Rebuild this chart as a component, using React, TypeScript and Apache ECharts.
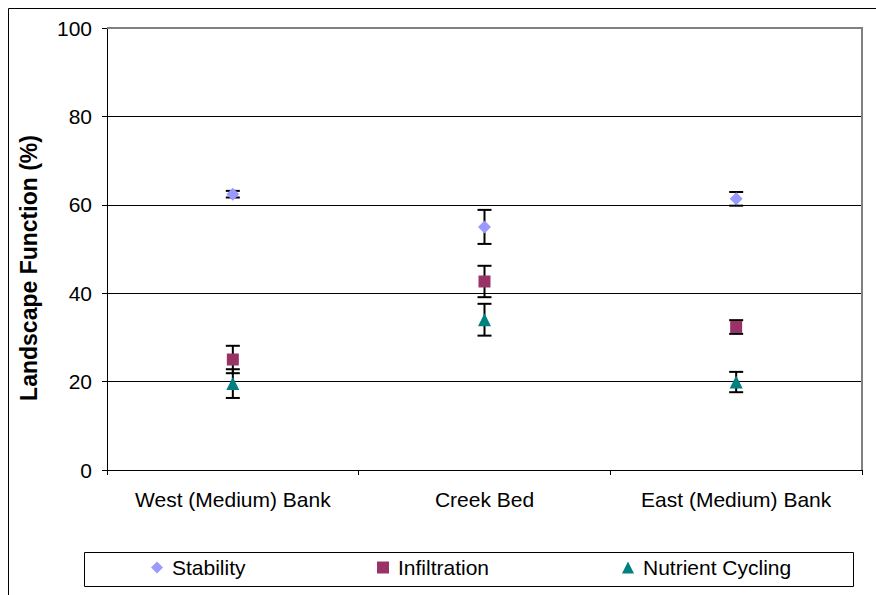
import React, { useEffect, useRef } from "react";
import * as echarts from "echarts";

const categories = ["West (Medium) Bank", "Creek Bed", "East (Medium) Bank"];
const stability = [62.4, 55.0, 61.35];
const stabilityErr = [0.75, 3.85, 1.55];
const infiltration = [25.0, 42.65, 32.35];
const infiltrationErr = [3.1, 3.55, 1.55];
const nutrient = [19.55, 34.0, 19.9];
const nutrientErr = [3.25, 3.6, 2.3];
const yTicks = [0, 20, 40, 60, 80, 100];
const yTitle = "Landscape Function (%)";

const FONT = "Liberation Sans, Arial, sans-serif";

function errData(vals: number[], errs: number[]) {
  return vals.map((v, i) => [i, v - errs[i], v + errs[i]]);
}

function renderErr(params: any, api: any) {
  const x = api.value(0);
  const lo = api.coord([x, api.value(1)]);
  const hi = api.coord([x, api.value(2)]);
  const hw = 7;
  const style = { stroke: "#000", lineWidth: 2 };
  return {
    type: "group",
    children: [
      { type: "line", shape: { x1: hi[0], y1: hi[1], x2: lo[0], y2: lo[1] }, style },
      { type: "line", shape: { x1: hi[0] - hw, y1: hi[1], x2: hi[0] + hw, y2: hi[1] }, style },
      { type: "line", shape: { x1: lo[0] - hw, y1: lo[1], x2: lo[0] + hw, y2: lo[1] }, style },
    ],
  };
}

export default function App() {
  const ref = useRef<HTMLDivElement>(null);
  useEffect(() => {
    document.body.style.margin = "0";
    const chart = echarts.init(ref.current!, null, { renderer: "svg" });
    const legendText = { color: "#000", fontSize: 21, fontFamily: FONT, padding: [0, 0, 0, 4] };
    chart.setOption({
      animation: false,
      backgroundColor: "#fff",
      grid: { left: 107, right: 14, top: 28, bottom: 125 },
      xAxis: {
        type: "category",
        data: categories,
        boundaryGap: true,
        axisLine: { lineStyle: { color: "#000", width: 1 } },
        axisTick: { show: true, length: 5, lineStyle: { color: "#000" } },
        axisLabel: { color: "#000", fontSize: 21, fontFamily: FONT, margin: 19, interval: 0, hideOverlap: false },
        splitLine: { show: false },
      },
      yAxis: {
        type: "value",
        min: 0,
        max: 100,
        interval: 20,
        axisLine: { show: true, lineStyle: { color: "#000", width: 1 } },
        axisTick: { show: true, length: 5, lineStyle: { color: "#000" } },
        axisLabel: {
          color: "#000",
          fontSize: 21,
          fontFamily: FONT,
          margin: 15,
          formatter: (v: number) => (yTicks.includes(v) ? String(v) : ""),
        },
        splitLine: { show: true, lineStyle: { color: "#000", width: 1 } },
      },
      legend: [
        { data: ["Stability"], left: 151, top: 557, padding: 0, itemWidth: 12, itemHeight: 12, textStyle: legendText },
        { data: ["Infiltration"], left: 377, top: 557, padding: 0, itemWidth: 12, itemHeight: 12, textStyle: legendText },
        { data: ["Nutrient Cycling"], left: 622, top: 557, padding: 0, itemWidth: 12, itemHeight: 12, textStyle: legendText },
      ],
      graphic: [
        {
          type: "rect",
          z: 100,
          shape: { x: 8.5, y: 8.5, width: 1000, height: 1000 },
          style: { fill: "none", stroke: "#000", lineWidth: 1 },
        },
        {
          type: "rect",
          z: 100,
          shape: { x: 84.5, y: 552.5, width: 769, height: 34 },
          style: { fill: "none", stroke: "#000", lineWidth: 1 },
        },
        {
          type: "polyline",
          z: 100,
          shape: { points: [[107, 28], [862, 28], [862, 470]] },
          style: { fill: "none", stroke: "#808080", lineWidth: 2 },
        },
        {
          type: "text",
          z: 100,
          x: 29,
          y: 268,
          rotation: Math.PI / 2,
          style: {
            text: yTitle,
            fill: "#000",
            font: "bold 23px " + FONT,
            align: "center",
            verticalAlign: "middle",
          },
        },
      ],
      series: [
        { name: "errS", type: "custom", renderItem: renderErr, data: errData(stability, stabilityErr), encode: { x: 0, y: [1, 2] }, z: 3 },
        { name: "errI", type: "custom", renderItem: renderErr, data: errData(infiltration, infiltrationErr), encode: { x: 0, y: [1, 2] }, z: 3 },
        { name: "errN", type: "custom", renderItem: renderErr, data: errData(nutrient, nutrientErr), encode: { x: 0, y: [1, 2] }, z: 3 },
        { name: "Stability", type: "scatter", symbol: "diamond", symbolSize: 13, data: stability, itemStyle: { color: "#9999FF", opacity: 1 }, z: 5 },
        { name: "Infiltration", type: "scatter", symbol: "rect", symbolSize: 12, data: infiltration, itemStyle: { color: "#993366", opacity: 1 }, z: 5 },
        { name: "Nutrient Cycling", type: "scatter", symbol: "triangle", symbolSize: 13, data: nutrient, itemStyle: { color: "#008080", opacity: 1 }, z: 5 },
      ],
    });
    return () => chart.dispose();
  }, []);
  return <div ref={ref} style={{ width: 876, height: 595, overflow: "hidden" }} />;
}
